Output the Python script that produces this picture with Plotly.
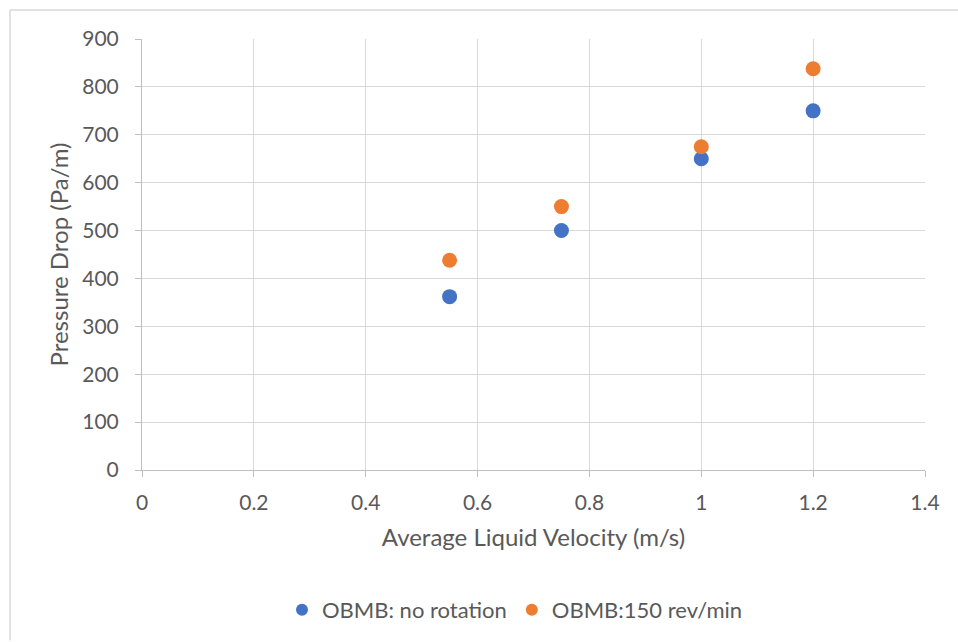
import plotly.graph_objects as go

# Average liquid velocity (m/s) and pressure drop (Pa/m)
velocity = [0.55, 0.75, 1.0, 1.2]
dp_no_rotation = [362, 500, 650, 750]
dp_150_rpm = [438, 550, 675, 838]

series_names = ["OBMB: no rotation", "OBMB:150 rev/min"]
x_ticks = [0, 0.2, 0.4, 0.6, 0.8, 1, 1.2, 1.4]
x_tick_text = ["0", "0.2", "0.4", "0.6", "0.8", "1", "1.2", "1.4"]
y_ticks = [0, 100, 200, 300, 400, 500, 600, 700, 800, 900]

blue = "#4472C4"
orange = "#ED7D31"
text_color = "#595959"
font_family = "Lato, sans-serif"
fs = 21
title_fs = 24

fig = go.Figure()
fig.add_trace(go.Scatter(
    x=velocity, y=dp_no_rotation, mode="markers", name=series_names[0],
    marker=dict(color=blue, size=15, line=dict(width=0)),
))
fig.add_trace(go.Scatter(
    x=velocity, y=dp_150_rpm, mode="markers", name=series_names[1],
    marker=dict(color=orange, size=15, line=dict(width=0)),
))

L, R, T, B = 142, 33, 39, 171
W, H = 958, 642
pw, ph = W - L - R, H - T - B

def px(x):
    return (x - L) / pw

def py(y):
    return (H - B - y) / ph

fig.update_layout(
    width=W, height=H,
    margin=dict(l=L, r=R, t=T, b=B),
    paper_bgcolor="white", plot_bgcolor="white",
    font=dict(family=font_family, size=fs, color=text_color),
    xaxis=dict(
        range=[0, 1.4], tickvals=x_ticks, ticktext=x_tick_text,
        showgrid=True, gridcolor="#D9D9D9", gridwidth=1,
        showline=True, linecolor="#BFBFBF", linewidth=1,
        ticks="outside", ticklen=6, tickcolor="#BFBFBF",
        zeroline=False, ticklabelstandoff=8,
        title=dict(text="Average Liquid Velocity (m/s)", font=dict(size=title_fs, color=text_color), standoff=15),
        tickfont=dict(size=fs, color=text_color),
    ),
    yaxis=dict(
        range=[0, 900], tickvals=y_ticks,
        showgrid=True, gridcolor="#D9D9D9", gridwidth=1,
        showline=True, linecolor="#BFBFBF", linewidth=1,
        ticks="outside", ticklen=6, tickcolor="#BFBFBF",
        zeroline=False, ticklabelstandoff=12,
        title=dict(text="Pressure Drop (Pa/m)", font=dict(size=title_fs, color=text_color), standoff=6),
        tickfont=dict(size=fs, color=text_color),
    ),
    legend=dict(
        orientation="h", x=px(515), y=py(610), xanchor="center", yanchor="middle",
        font=dict(size=22, color=text_color), itemsizing="constant",
        itemwidth=30, tracegroupgap=0,
    ),
    shapes=[
        dict(type="line", xref="paper", yref="paper",
             x0=px(10), x1=px(958), y0=py(10), y1=py(10),
             line=dict(color="#D9D9D9", width=1.5)),
        dict(type="line", xref="paper", yref="paper",
             x0=px(10), x1=px(10), y0=py(10), y1=py(642),
             line=dict(color="#D9D9D9", width=1.5)),
    ],
)

fig.write_html("out.html")
